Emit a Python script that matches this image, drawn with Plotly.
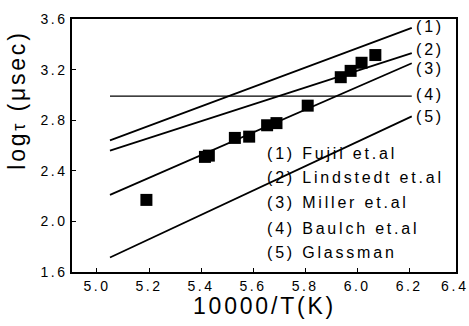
import plotly.graph_objects as go

# ---- data ----
line_x = [5.05, 6.21]
line1_y = [2.64, 3.53]   # (1) Fujii et.al
line2_y = [2.56, 3.33]   # (2) Lindstedt et.al
line3_y = [2.21, 3.25]   # (3) Miller et.al
line4_y = [2.99, 2.99]   # (4) Baulch et.al
line5_y = [1.715, 2.83]  # (5) Glassman

exp_x = [5.19, 5.415, 5.43, 5.53, 5.585, 5.654, 5.69, 5.81, 5.937, 5.975, 6.017, 6.07]
exp_y = [2.17, 2.51, 2.52, 2.66, 2.67, 2.76, 2.777, 2.915, 3.14, 3.19, 3.254, 3.315]

line_tags = ["(1)", "(2)", "(3)", "(4)", "(5)"]
tag_y = [3.54, 3.36, 3.21, 3.005, 2.83]
legend_texts = ["(1) Fujii et.al", "(2) Lindstedt et.al", "(3) Miller et.al",
                "(4) Baulch et.al", "(5) Glassman"]
legend_y = [2.538, 2.346, 2.146, 1.946, 1.754]

x_ticks = [5.0, 5.2, 5.4, 5.6, 5.8, 6.0, 6.2]
y_ticks = [1.6, 2.0, 2.4, 2.8, 3.2, 3.6]

FONT = "Liberation Sans, Arial, sans-serif"
EPS = 0.01  # initial size offset; post script resets sizes so text is re-measured with letter-spacing

fig = go.Figure()
for ys, w in zip([line1_y, line2_y, line3_y, line4_y, line5_y], [1.8, 1.8, 1.8, 1.1, 1.8]):
    fig.add_trace(go.Scatter(x=line_x, y=ys, mode="lines",
                             line=dict(color="black", width=w),
                             showlegend=False, hoverinfo="skip"))
fig.add_trace(go.Scatter(x=exp_x, y=exp_y, mode="markers",
                         marker=dict(symbol="square", size=12, color="black"),
                         showlegend=False))

ann = []
for t, y in zip(line_tags, tag_y):
    ann.append(dict(x=6.22, y=y, xref="x", yref="y", text=t, showarrow=False,
                    xanchor="left", yanchor="middle",
                    font=dict(family=FONT, size=16 + EPS, color="black")))
for t, y in zip(legend_texts, legend_y):
    ann.append(dict(x=5.646, y=y, xref="x", yref="y", text=t, showarrow=False,
                    xanchor="left", yanchor="middle",
                    font=dict(family=FONT, size=16 + EPS, color="black")))
# 6.4 tick label sits just beyond the frame
ann.append(dict(x=(457 - 72) / 386, y=0, xref="paper", yref="paper", text="6.4",
                showarrow=False, xanchor="center", yanchor="top", yshift=-4,
                font=dict(family=FONT, size=14 + EPS, color="black")))
ann.append(dict(x=0.5, y=-0.135, xref="paper", yref="paper", text="10000/T(K)",
                showarrow=False, xanchor="center", yanchor="middle",
                font=dict(family=FONT, size=23 + EPS, color="black")))
ann.append(dict(x=-0.1425, y=0.678, xref="paper", yref="paper",
                text="log<span style='font-size:18px'>τ</span> (μsec)",
                showarrow=False, xanchor="center", yanchor="middle", textangle=-90,
                font=dict(family=FONT, size=23 + EPS, color="black")))

axis_common = dict(showgrid=False, zeroline=False, showline=True, linecolor="black",
                   linewidth=1.5, mirror=True, ticks="inside", ticklen=4,
                   tickcolor="black", tickwidth=1,
                   tickfont=dict(family=FONT, size=14, color="black"))

fig.update_layout(
    width=469, height=326,
    margin=dict(l=72, r=11, t=11, b=54),
    paper_bgcolor="white", plot_bgcolor="white",
    xaxis=dict(range=[4.904, 6.38], tickvals=x_ticks,
               ticktext=[f"{v:.1f}" for v in x_ticks], **axis_common),
    yaxis=dict(range=[1.6, 3.6], tickvals=y_ticks,
               ticktext=[f"{v:.1f}" for v in y_ticks], **axis_common),
    annotations=ann,
)

post = """
var s = document.createElement('style');
s.textContent = '.xtick text, .ytick text {letter-spacing: 2.5px;} .annotation-text {letter-spacing: 2.8px;}';
document.head.appendChild(s);
var gd = document.getElementById('{plot_id}');
var upd = {};
gd.layout.annotations.forEach(function(a, i) {
  upd['annotations[' + i + '].font.size'] = Math.round(a.font.size);
});
Plotly.relayout(gd, upd);
"""

fig.write_html("out.html", post_script=post, config={"displayModeBar": False})
